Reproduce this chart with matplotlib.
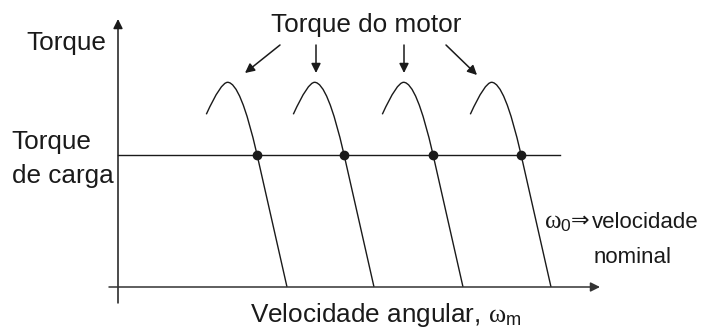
import matplotlib
matplotlib.use("Agg")
import matplotlib.pyplot as plt
from matplotlib.path import Path
from matplotlib.patches import PathPatch

plt.rcParams['font.family'] = ['Liberation Sans', 'DejaVu Sans']
plt.rcParams['mathtext.fontset'] = 'custom'
plt.rcParams['mathtext.rm'] = 'Liberation Sans'
plt.rcParams['mathtext.it'] = 'Liberation Serif'
plt.rcParams['mathtext.sf'] = 'Liberation Sans'

# schematic values (speed / torque in arbitrary units)
sync_speeds = [169, 256, 345, 433]     # speed where each motor curve reaches zero torque
load_torque = 132.5                     # constant load torque
# shape of one motor curve, relative to its zero-torque speed
hump_start = (-80.7, 172.7)
hump_ctrl1 = (-66.2, 204.7)
hump_peak = (-59.4, 204.7)
hump_ctrl2 = (-46.4, 204.7)
op_point = (-30.0, load_torque)          # operating point on load line

ink = '#1a1a1a'
fs = 18.8

fig = plt.figure(figsize=(7.02, 3.35), dpi=100)
ax = fig.add_axes([0, 0, 1, 1])
ax.set_xlim(-118, 584)
ax.set_ylim(-48, 287)
ax.axis('off')

# axes with arrows
ax.annotate('', xy=(0, 268), xytext=(0, -16),
            arrowprops=dict(arrowstyle='-|>', color=ink, lw=1.1, mutation_scale=14, shrinkA=0, shrinkB=0))
ax.annotate('', xy=(482, 0), xytext=(-9, 0),
            arrowprops=dict(arrowstyle='-|>', color='#333333', lw=1.1, mutation_scale=14, shrinkA=0, shrinkB=0))

# load torque line
ax.plot([0, 442], [load_torque, load_torque], color=ink, lw=1.0)

# motor torque curves
codes = [Path.MOVETO, Path.CURVE3, Path.CURVE3, Path.CURVE3, Path.CURVE3, Path.LINETO]
for w0 in sync_speeds:
    pts = [hump_start, hump_ctrl1, hump_peak, hump_ctrl2, op_point, (0, 0)]
    verts = [(w0 + dx, t) for dx, t in pts]
    ax.add_patch(PathPatch(Path(verts, codes), fill=False, edgecolor=ink, lw=1.0))
    ax.plot(w0 + op_point[0], op_point[1], 'o', color=ink, ms=6)

# labels
ax.text(-12, 237, 'Torque', fontsize=fs, ha='right', va='baseline', color=ink)
ax.text(-106.5, 138.5, 'Torque', fontsize=fs, ha='left', va='baseline', color=ink)
ax.text(-106.5, 103.5, 'de carga', fontsize=fs, ha='left', va='baseline', color=ink)
ax.text(248, 255.3, 'Torque do motor', fontsize=fs, ha='center', va='baseline', color=ink)

# arrows from the motor label to the curves
arrows = [((162, 242), (127, 214)), ((198, 242), (198, 214)),
          ((286, 242), (286, 214)), ((328, 242), (359, 212))]
for tail, tip in arrows:
    ax.annotate('', xy=tip, xytext=tail,
                arrowprops=dict(arrowstyle='-|>', color=ink, lw=1.1, mutation_scale=14, shrinkA=0, shrinkB=0))

# nominal speed note
ax.text(426, 58.5, r'$\omega_0$', fontsize=18, ha='left', va='baseline', color=ink)
ax.text(453, 60, '\u21d2', fontsize=16, ha='left', va='baseline', color=ink,
        family=['DejaVu Sans'])
ax.text(474, 58.5, 'velocidade', fontsize=16, ha='left', va='baseline', color=ink)
ax.text(515, 23.7, 'nominal', fontsize=16, ha='center', va='baseline', color=ink)
ax.text(132, -35, r'Velocidade angular, $\omega_\mathrm{m}$', fontsize=fs, ha='left', va='baseline', color=ink)

fig.savefig('out.png', dpi=100)
